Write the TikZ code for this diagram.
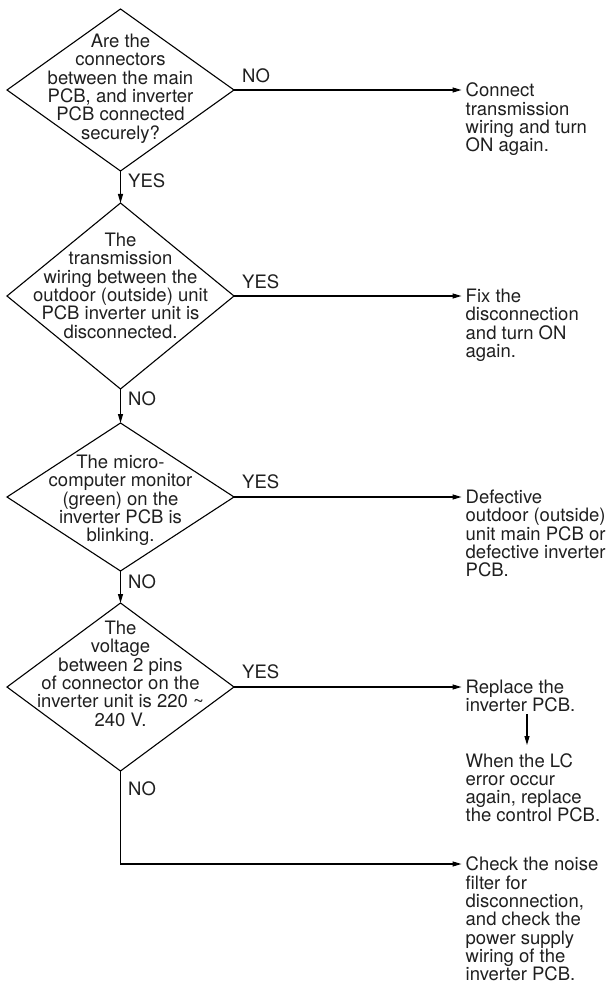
\documentclass[tikz,border=0pt]{standalone}
\usepackage{fontspec}
\setmainfont{TeX Gyre Heros}
\usetikzlibrary{shapes.geometric,arrows.meta,calc}
\newcommand\flowfont{\fontsize{18.5}{18.3}\selectfont}
\begin{document}
\begin{tikzpicture}[x=1pt,y=-1pt,
  dia/.style={draw, diamond, inner sep=0pt, outer sep=0pt, line width=1.1pt},
  dtext/.style={align=center, inner sep=0pt, anchor=north, font=\flowfont, text=black!88},
  rtext/.style={align=left, inner xsep=4pt, inner ysep=0pt, anchor=north west, font=\flowfont, text=black!88},
  lbl/.style={anchor=base west, inner sep=0pt, font=\flowfont, text=black!88},
  arr/.style={line width=1.1pt, -{Triangle[length=9pt,width=5pt]}}]
\useasboundingbox (0,0) rectangle (611,984);
% decisions
\node[dia, minimum width=227pt, minimum height=162pt] (d1) at (120.5,90) {};
\node[dtext] (t1) at (120.5,34) {Are the\\connectors\\between the main\\PCB, and inverter\\PCB connected\\securely?};
\node[dia, minimum width=227pt, minimum height=186pt] (d2) at (120.5,296) {};
\node[dtext] (t2) at (120.5,233) {The\\transmission\\wiring between the\\outdoor (outside) unit\\PCB inverter unit is\\disconnected.};
\node[dia, minimum width=227pt, minimum height=148pt] (d3) at (120.5,497) {};
\node[dtext] (t3) at (120.5,455) {The micro-\\computer monitor\\(green) on the\\inverter PCB is\\blinking.};
\node[dia, minimum width=227pt, minimum height=168pt] (d4) at (120.5,687) {};
\node[dtext] (t4) at (120.5,621) {The\\voltage\\between 2 pins\\of connector on the\\inverter unit is 220 \textasciitilde\\240 V.};
% arrow tips / results
\coordinate (a1) at (461.5,90);
\coordinate (a2) at (461.5,296);
\coordinate (a3) at (461.5,497);
\coordinate (a4) at (461.5,687);
\coordinate (a6) at (461.5,864);
\coordinate (vx) at (527,0);
\node[rtext] (r1) at ($(a1)+(0,-7.2)$) {Connect\\transmission\\wiring and turn\\ON again.};
\node[rtext] (r2) at ($(a2)+(0,-7.2)$) {Fix the\\disconnection\\and turn ON\\again.};
\node[rtext] (r3) at ($(a3)+(0,-7.2)$) {Defective\\outdoor (outside)\\unit main PCB or\\defective inverter\\PCB.};
\node[rtext] (r4) at ($(a4)+(0,-7.2)$) {Replace the\\inverter PCB.};
\node[rtext] (r5) at (461.5,753) {When the LC\\error occur\\again, replace\\the control PCB.};
\node[rtext] (r6) at ($(a6)+(0,-7.2)$) {Check the noise\\filter for\\disconnection,\\and check the\\power supply\\wiring of the\\inverter PCB.};
% connectors
\draw[arr] (d1.south) -- (d2.north);
\draw[arr] (d2.south) -- (d3.north);
\draw[arr] (d3.south) -- (d4.north);
\draw[arr] (d1.east) -- (a1);
\draw[arr] (d2.east) -- (a2);
\draw[arr] (d3.east) -- (a3);
\draw[arr] (d4.east) -- (a4);
\draw[arr] (d4.south) |- (a6);
\draw[arr] ($(r4.south -| vx)+(0,2)$) -- ($(r5.north -| vx)+(0,-8)$);
% labels
\node[lbl] (n1) at (242,83) {NO};
\node[lbl] (y1) at (128,188) {YES};
\node[lbl] (y2) at (242,288) {YES};
\node[lbl] (n2) at (128,405) {NO};
\node[lbl] (y3) at (242,488) {YES};
\node[lbl] (n3) at (128,588) {NO};
\node[lbl] (y4) at (242,678) {YES};
\node[lbl] (n4) at (128,795) {NO};
\end{tikzpicture}
\end{document}
